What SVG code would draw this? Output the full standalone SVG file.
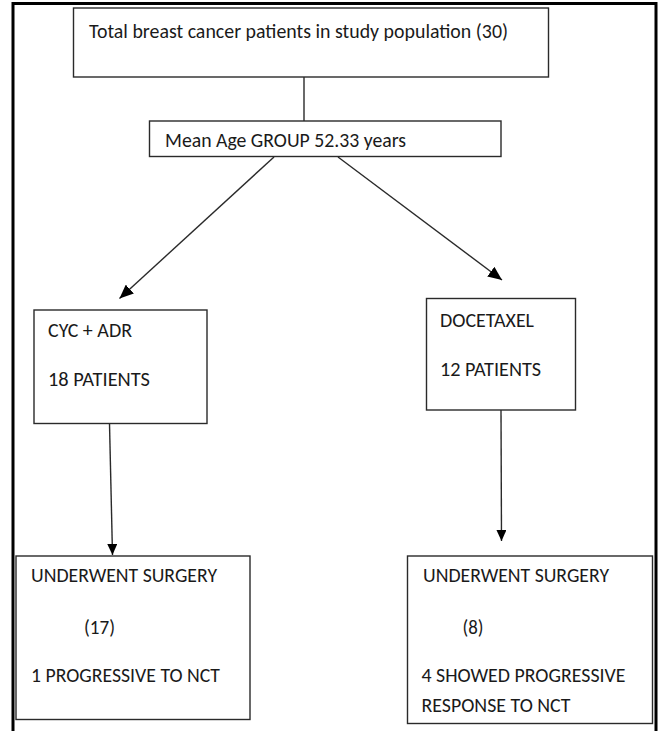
<svg xmlns="http://www.w3.org/2000/svg" width="661" height="731" viewBox="0 0 661 731">
<style>
.box{fill:#fff;stroke:#2a2a2a;stroke-width:1.4}
.t{font-family:Carlito,"Liberation Sans",Arial,sans-serif;font-size:19.5px;fill:#1a1a1a}
.c{fill:none;stroke:#2a2a2a;stroke-width:1.4}
</style>
<defs>
<marker id="ad" markerUnits="userSpaceOnUse" markerWidth="15" markerHeight="12" refX="14" refY="6" orient="auto"><path d="M0,0 L14,6 L0,12 z" fill="#000"/></marker>
<marker id="av" markerUnits="userSpaceOnUse" markerWidth="11" markerHeight="10" refX="11" refY="5" orient="auto"><path d="M0,0 L11,5 L0,10 z" fill="#000"/></marker>
</defs>
<rect width="661" height="731" fill="#fff"/>
<path d="M13,731 V3.5 H656 V731" fill="none" stroke="#000" stroke-width="3"/>
<g id="connectors">
<line class="c" x1="304" y1="77" x2="304" y2="121"/>
<line class="c" x1="274" y1="157" x2="119.5" y2="298.5" marker-end="url(#ad)"/>
<line class="c" x1="338" y1="157" x2="502" y2="280" marker-end="url(#ad)"/>
<line class="c" x1="109.5" y1="423.5" x2="112.5" y2="555" marker-end="url(#av)"/>
<line class="c" x1="501" y1="410" x2="501.5" y2="541" marker-end="url(#av)"/>
</g>
<g id="n-total">
<rect class="box" x="73.5" y="8" width="475" height="69"/>
<text class="t" x="89" y="38" textLength="419" lengthAdjust="spacingAndGlyphs">Total breast cancer patients in study population (30)</text>
</g>
<g id="n-mean">
<rect class="box" x="149.5" y="121" width="351.5" height="35.5"/>
<text class="t" x="165" y="147" textLength="241" lengthAdjust="spacingAndGlyphs">Mean Age GROUP 52.33 years</text>
</g>
<g id="n-cyc">
<rect class="box" x="34" y="310" width="173" height="113.5"/>
<text class="t" x="48" y="337" textLength="84" lengthAdjust="spacingAndGlyphs">CYC + ADR</text>
<text class="t" x="48" y="386" textLength="102" lengthAdjust="spacingAndGlyphs">18 PATIENTS</text>
</g>
<g id="n-doc">
<rect class="box" x="426.5" y="298.5" width="149" height="111.5"/>
<text class="t" x="440" y="327" textLength="94" lengthAdjust="spacingAndGlyphs">DOCETAXEL</text>
<text class="t" x="440" y="376" textLength="101" lengthAdjust="spacingAndGlyphs">12 PATIENTS</text>
</g>
<g id="n-surg-left">
<rect class="box" x="16" y="556" width="234" height="163.5"/>
<text class="t" x="31" y="582" textLength="186" lengthAdjust="spacingAndGlyphs">UNDERWENT SURGERY</text>
<text class="t" x="84" y="634" textLength="31" lengthAdjust="spacingAndGlyphs">(17)</text>
<text class="t" x="31" y="682" textLength="189" lengthAdjust="spacingAndGlyphs">1 PROGRESSIVE TO NCT</text>
</g>
<g id="n-surg-right">
<rect class="box" x="407.5" y="556" width="245" height="167.5"/>
<text class="t" x="423" y="582" textLength="186" lengthAdjust="spacingAndGlyphs">UNDERWENT SURGERY</text>
<text class="t" x="462.5" y="634" textLength="21" lengthAdjust="spacingAndGlyphs">(8)</text>
<text class="t" x="421.5" y="682" textLength="204" lengthAdjust="spacingAndGlyphs">4 SHOWED PROGRESSIVE</text>
<text class="t" x="421.5" y="711.5" textLength="149" lengthAdjust="spacingAndGlyphs">RESPONSE TO NCT</text>
</g>
</svg>
